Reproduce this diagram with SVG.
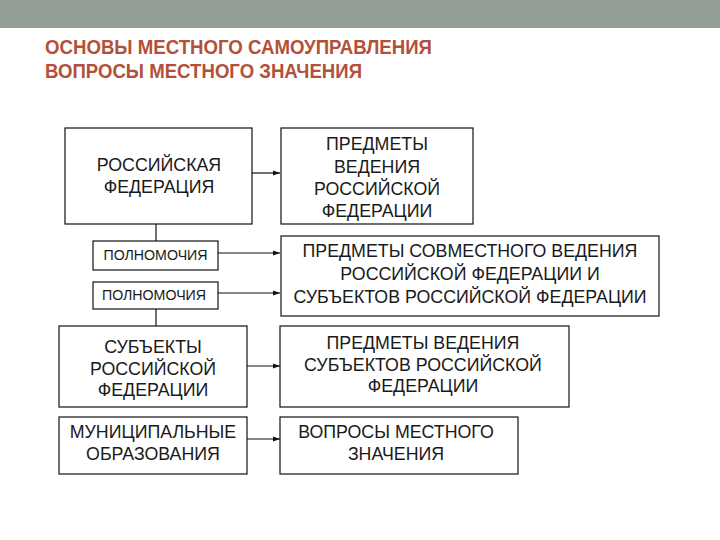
<svg xmlns="http://www.w3.org/2000/svg" width="720" height="540" viewBox="0 0 720 540">
<style>
.box{fill:#fff;stroke:#111;stroke-width:1.2}
.t{font-family:"Liberation Sans",Arial,sans-serif;font-size:17.8px;fill:#1a1a1a;text-anchor:middle}
.s{font-family:"Liberation Sans",Arial,sans-serif;font-size:14.2px;fill:#1a1a1a;text-anchor:middle}
.title{font-family:"Liberation Sans",Arial,sans-serif;font-size:20px;font-weight:bold;fill:#b2503a}
.c{stroke:#111;stroke-width:1.2;fill:none}
</style>
<defs>
<marker id="ah" markerWidth="8" markerHeight="6" refX="7" refY="3" orient="auto" markerUnits="userSpaceOnUse">
<path d="M0,0.5 L7,3 L0,5.5 Z" fill="#111"/>
</marker>
</defs>
<rect x="0" y="0" width="720" height="540" fill="#fff"/>
<rect x="0" y="0" width="720" height="28" fill="#939f95"/>
<text class="title" x="45" y="54" textLength="387" lengthAdjust="spacingAndGlyphs">ОСНОВЫ МЕСТНОГО САМОУПРАВЛЕНИЯ</text>
<text class="title" x="45" y="78" textLength="317" lengthAdjust="spacingAndGlyphs">ВОПРОСЫ МЕСТНОГО ЗНАЧЕНИЯ</text>

<g id="connectors">
<line class="c" x1="156" y1="224" x2="156" y2="241"/>
<line class="c" x1="156" y1="309" x2="156" y2="326"/>
<line class="c" x1="252" y1="173" x2="280" y2="173" marker-end="url(#ah)"/>
<line class="c" x1="218" y1="253" x2="280" y2="253" stroke-width="2" marker-end="url(#ah)"/>
<line class="c" x1="218" y1="293" x2="280" y2="293" marker-end="url(#ah)"/>
<line class="c" x1="247" y1="366" x2="280" y2="366" marker-end="url(#ah)"/>
<line class="c" x1="247" y1="439" x2="280" y2="439" marker-end="url(#ah)"/>
</g>

<g id="rf">
<rect class="box" x="65" y="128" width="187" height="96"/>
<text class="t" x="159" y="171">РОССИЙСКАЯ</text>
<text class="t" x="159" y="193">ФЕДЕРАЦИЯ</text>
</g>
<g id="poln1">
<rect class="box" x="93" y="241" width="125" height="29"/>
<text class="s" x="155.5" y="259.5">ПОЛНОМОЧИЯ</text>
</g>
<g id="poln2">
<rect class="box" x="93" y="282" width="125" height="27"/>
<text class="s" x="154" y="299.5">ПОЛНОМОЧИЯ</text>
</g>
<g id="subjects">
<rect class="box" x="59" y="326" width="188" height="81"/>
<text class="t" x="153" y="353">СУБЪЕКТЫ</text>
<text class="t" x="153" y="375">РОССИЙСКОЙ</text>
<text class="t" x="153" y="396">ФЕДЕРАЦИИ</text>
</g>
<g id="mun">
<rect class="box" x="59" y="417" width="188" height="57"/>
<text class="t" x="153" y="438">МУНИЦИПАЛЬНЫЕ</text>
<text class="t" x="153" y="460">ОБРАЗОВАНИЯ</text>
</g>
<g id="pv-rf">
<rect class="box" x="281" y="128" width="192" height="96"/>
<text class="t" x="377" y="150">ПРЕДМЕТЫ</text>
<text class="t" x="377" y="173">ВЕДЕНИЯ</text>
<text class="t" x="377" y="195">РОССИЙСКОЙ</text>
<text class="t" x="377" y="217">ФЕДЕРАЦИИ</text>
</g>
<g id="sovm">
<rect class="box" x="281" y="236" width="378" height="80"/>
<text class="t" x="470" y="257">ПРЕДМЕТЫ СОВМЕСТНОГО ВЕДЕНИЯ</text>
<text class="t" x="470" y="280">РОССИЙСКОЙ ФЕДЕРАЦИИ И</text>
<text class="t" x="470" y="303">СУБЪЕКТОВ РОССИЙСКОЙ ФЕДЕРАЦИИ</text>
</g>
<g id="pv-subj">
<rect class="box" x="280" y="326" width="289" height="81"/>
<text class="t" x="423" y="349">ПРЕДМЕТЫ ВЕДЕНИЯ</text>
<text class="t" x="423" y="371">СУБЪЕКТОВ РОССИЙСКОЙ</text>
<text class="t" x="423" y="392">ФЕДЕРАЦИИ</text>
</g>
<g id="voprosy">
<rect class="box" x="280" y="417" width="238" height="57"/>
<text class="t" x="396" y="438">ВОПРОСЫ МЕСТНОГО</text>
<text class="t" x="396" y="460">ЗНАЧЕНИЯ</text>
</g>
</svg>
